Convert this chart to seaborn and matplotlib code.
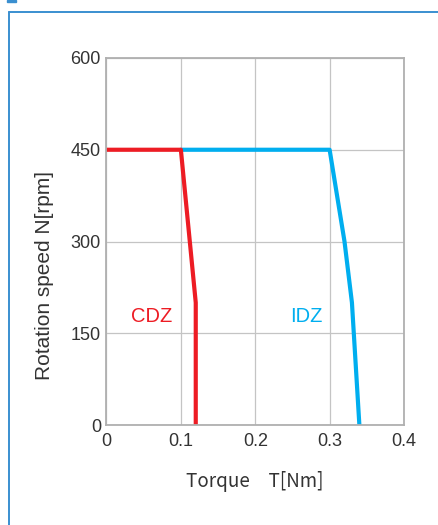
import matplotlib
matplotlib.use("Agg")
import matplotlib.pyplot as plt
import matplotlib.patches as mpatches
from matplotlib.lines import Line2D
import seaborn as sns
import pandas as pd

# curve points
cdz_torque = [0.0, 0.1, 0.12, 0.12]
cdz_speed = [450, 450, 200, 0]
idz_torque = [0.1, 0.3, 0.32, 0.33, 0.34]
idz_speed = [450, 450, 300, 200, 0]

x_ticks = [0, 0.1, 0.2, 0.3, 0.4]
x_tick_labels = ["0", "0.1", "0.2", "0.3", "0.4"]
y_ticks = [0, 150, 300, 450, 600]

RED = "#ED1C24"
BLUE = "#00AEEF"

sns.set_style("white")
plt.rcParams["font.family"] = ["Liberation Sans", "DejaVu Sans"]

df = pd.concat([
    pd.DataFrame({"torque": idz_torque, "speed": idz_speed, "model": "IDZ"}),
    pd.DataFrame({"torque": cdz_torque, "speed": cdz_speed, "model": "CDZ"}),
], ignore_index=True)

W, H = 439, 525
fig = plt.figure(figsize=(W / 100, H / 100), dpi=100)
ax = fig.add_axes([106.5 / W, 1 - 425 / H, 297.5 / W, 367 / H])

sns.lineplot(data=df, x="torque", y="speed", hue="model", sort=False,
             palette={"CDZ": RED, "IDZ": BLUE}, linewidth=3, legend=False,
             estimator=None, ax=ax)

ax.set_xlim(0, 0.4)
ax.set_ylim(0, 600)
ax.set_xticks(x_ticks)
ax.set_xticklabels(x_tick_labels)
ax.set_yticks(y_ticks)
ax.grid(True, color="#c4c4c4", linewidth=0.9)
ax.set_axisbelow(True)
for s in ax.spines.values():
    s.set_color("#b0b0b0")
    s.set_linewidth(1.3)

for lab in ax.get_xticklabels() + ax.get_yticklabels():
    lab.set_fontsize(13)
    lab.set_color("#333333")
ax.tick_params(axis="both", length=0)
ax.tick_params(axis="x", pad=6)
ax.tick_params(axis="y", pad=4)

ax.set_xlabel("Torque\u3000T[Nm]", fontsize=13.5, color="#333333",
              family=["Noto Sans CJK JP", "DejaVu Sans"])
ax.xaxis.set_label_coords(0.5, -0.125)
ax.set_ylabel("Rotation speed N[rpm]", fontsize=15, color="#333333")
ax.yaxis.set_label_coords(-0.178, 0.406)

ax.text(0.061, 178, "CDZ", color=RED, fontsize=14.5, ha="center", va="center")
ax.text(0.269, 178, "IDZ", color=BLUE, fontsize=14.5, ha="center", va="center")

# blue frame around the chart
frame = "#3a8fd0"
fig.add_artist(Line2D([8.5 / W, 8.5 / W], [0, 1 - 11.5 / H], color=frame,
                      linewidth=1.4, transform=fig.transFigure))
fig.add_artist(Line2D([8.5 / W, 1], [1 - 11.5 / H, 1 - 11.5 / H], color=frame,
                      linewidth=1.4, transform=fig.transFigure))
fig.add_artist(mpatches.Rectangle((7 / W, 1 - 1.5 / H), 9 / W, 1.5 / H,
                                  color=frame, transform=fig.transFigure))

fig.savefig("out.png", dpi=100)
